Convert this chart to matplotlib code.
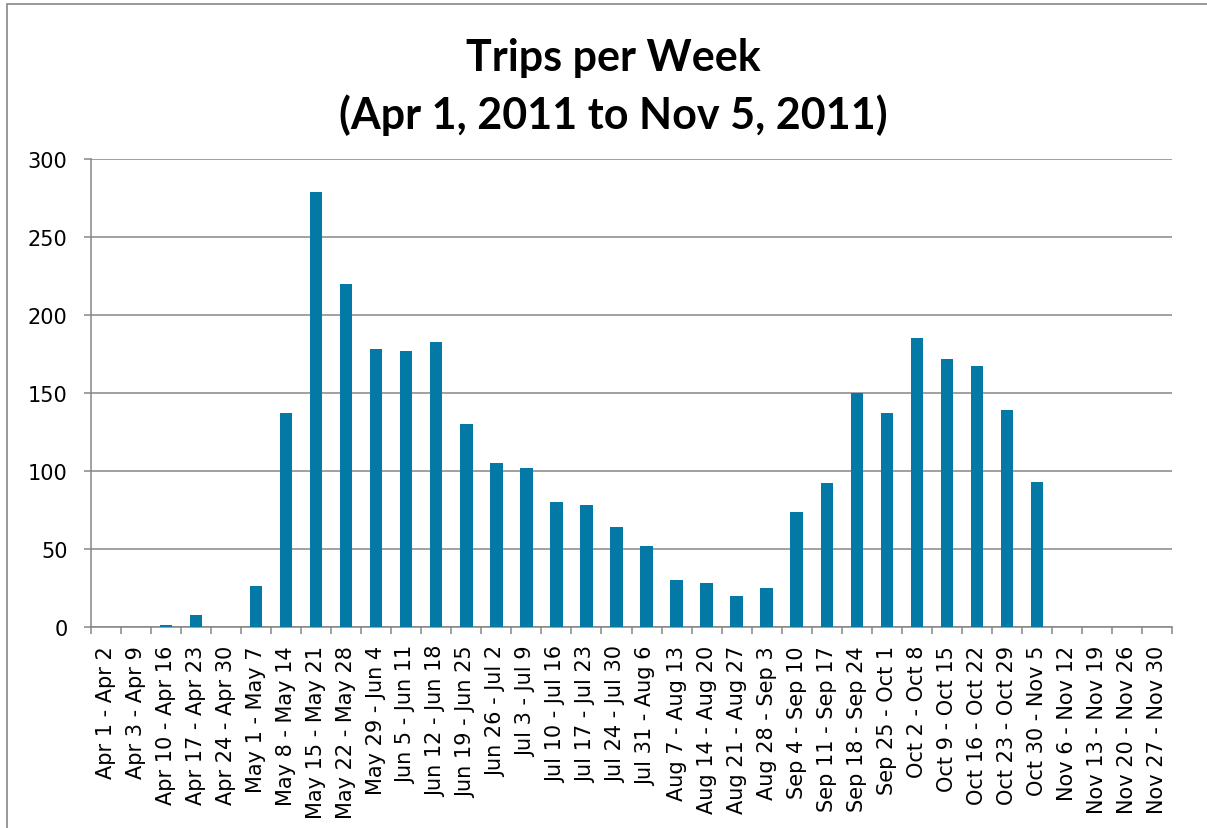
import matplotlib
matplotlib.use('Agg')
import numpy as np
from matplotlib import pyplot as plt
from matplotlib.patches import Rectangle

weeks = ['Apr 1 - Apr 2', 'Apr 3 - Apr 9', 'Apr 10 - Apr 16', 'Apr 17 - Apr 23',
         'Apr 24 - Apr 30', 'May 1 - May 7', 'May 8 - May 14', 'May 15 - May 21',
         'May 22 - May 28', 'May 29 - Jun 4', 'Jun 5 - Jun 11', 'Jun 12 - Jun 18',
         'Jun 19 - Jun 25', 'Jun 26 - Jul 2', 'Jul 3 - Jul 9', 'Jul 10 - Jul 16',
         'Jul 17 - Jul 23', 'Jul 24 - Jul 30', 'Jul 31 - Aug 6', 'Aug 7 - Aug 13',
         'Aug 14 - Aug 20', 'Aug 21 - Aug 27', 'Aug 28 - Sep 3', 'Sep 4 - Sep 10',
         'Sep 11 - Sep 17', 'Sep 18 - Sep 24', 'Sep 25 - Oct 1', 'Oct 2 - Oct 8',
         'Oct 9 - Oct 15', 'Oct 16 - Oct 22', 'Oct 23 - Oct 29', 'Oct 30 - Nov 5',
         'Nov 6 - Nov 12', 'Nov 13 - Nov 19', 'Nov 20 - Nov 26', 'Nov 27 - Nov 30']
trips = [0, 0, 1, 8, 0, 26, 137, 279, 220, 178, 177, 183, 130, 105, 102, 80,
         78, 64, 52, 30, 28, 20, 25, 74, 92, 150, 137, 185, 172, 167, 139, 93,
         0, 0, 0, 0]
yticks = [0, 50, 100, 150, 200, 250, 300]
title_lines = ['Trips per Week', '(Apr 1, 2011 to Nov 5, 2011)']

plt.rcParams['font.family'] = 'DejaVu Sans'
grey = '#868686'
fig = plt.figure(figsize=(12.07, 8.29), dpi=100)
ax = fig.add_axes([91/1207, 1-628/829, (1172-91)/1207, (628-160)/829])

x = np.arange(len(weeks))
ax.bar(x, trips, width=0.41, color='#0479A6', zorder=3)

ax.set_xlim(-0.5, len(weeks)-0.5)
ax.set_ylim(0, 300)
ax.set_yticks(yticks)
ax.yaxis.grid(True, color=grey, linewidth=1.1, zorder=0)

ax.set_xticks(x)
ax.set_xticklabels(weeks, rotation=90, fontsize=15)
ax.set_xticks(np.arange(len(weeks)+1)-0.5, minor=True)
ax.tick_params(axis='x', which='major', length=0, pad=13)
ax.tick_params(axis='x', which='minor', length=5, width=1.1, color=grey, direction='out')
ax.tick_params(axis='y', length=5, width=1.1, color=grey, pad=12, labelsize=15)

for s in ['top', 'right']:
    ax.spines[s].set_visible(False)
for s in ['left', 'bottom']:
    ax.spines[s].set_color(grey)
    ax.spines[s].set_linewidth(1.1)

for ypix, line in zip([58, 115], title_lines):
    fig.text(0.508, 1-ypix/829, line, ha='center', va='center', fontsize=31,
             fontweight='bold', family='Lato')

fig.patches.append(Rectangle((7/1207, -0.1), 1.2, 1-5/829+0.1, transform=fig.transFigure,
                             fill=False, edgecolor=grey, linewidth=1.2))

plt.savefig('out.png', dpi=100)
